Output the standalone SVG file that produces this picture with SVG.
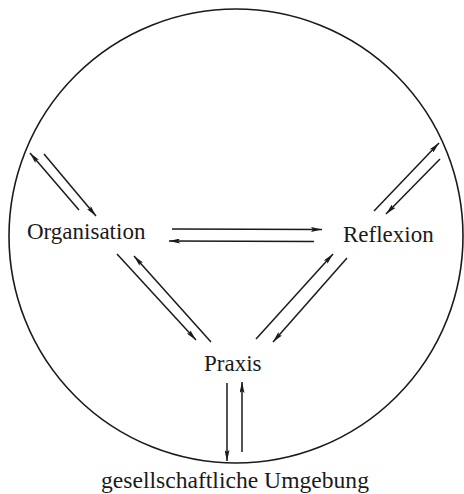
<svg xmlns="http://www.w3.org/2000/svg" width="464" height="494" viewBox="0 0 464 494">
  <style>
    .lbl { font-family: "Liberation Serif", "Times New Roman", serif; font-size: 23px; fill: #1a1a1a; }
    .c { stroke: #1a1a1a; stroke-width: 1.5; fill: none; marker-end: url(#ah); }
  </style>
  <defs>
    <marker id="ah" viewBox="0 0 11 5" refX="11" refY="2.5" markerWidth="11" markerHeight="5" markerUnits="userSpaceOnUse" orient="auto">
      <path d="M0,0 L11,2.5 L0,5 L2,2.5 z" fill="#1a1a1a"/>
    </marker>
  </defs>
  <rect width="464" height="494" fill="#ffffff"/>
  <circle id="umgebung-kreis" cx="236" cy="236" r="227" fill="none" stroke="#1a1a1a" stroke-width="1.6"/>
  <g id="organisation"><text class="lbl" x="27" y="239">Organisation</text></g>
  <g id="reflexion"><text class="lbl" x="343" y="242">Reflexion</text></g>
  <g id="praxis"><text class="lbl" x="204" y="371">Praxis</text></g>
  <g id="gesellschaftliche-umgebung"><text class="lbl" x="101" y="488" style="font-size:23.6px">gesellschaftliche Umgebung</text></g>
  <g id="connectors">
    <line class="c" x1="79" y1="210" x2="30" y2="153"/>
    <line class="c" x1="44" y1="154" x2="96" y2="216"/>
    <line class="c" x1="374" y1="211" x2="439" y2="143"/>
    <line class="c" x1="440" y1="159" x2="386" y2="214"/>
    <line class="c" x1="172" y1="229" x2="322" y2="229.5"/>
    <line class="c" x1="314" y1="241.5" x2="169" y2="241"/>
    <line class="c" x1="117" y1="254" x2="196" y2="340"/>
    <line class="c" x1="211" y1="342" x2="134" y2="256"/>
    <line class="c" x1="256" y1="339" x2="333" y2="254"/>
    <line class="c" x1="347" y1="258" x2="273" y2="342"/>
    <line class="c" x1="227" y1="383" x2="227" y2="461"/>
    <line class="c" x1="242" y1="452" x2="242" y2="382"/>
  </g>
</svg>
